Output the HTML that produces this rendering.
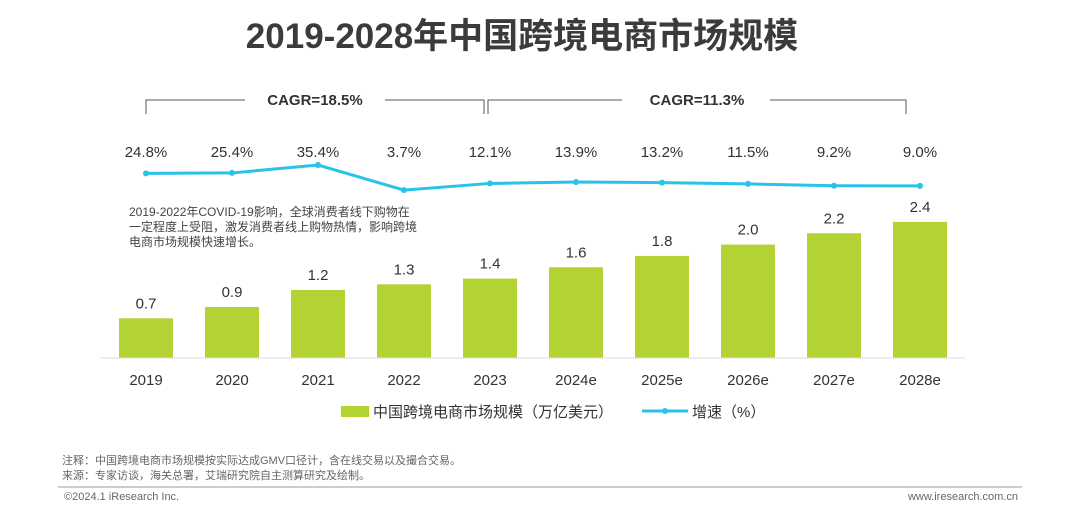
<!DOCTYPE html>
<html><head><meta charset="utf-8">
<style>
body{margin:0;background:#fff;width:1080px;height:516px;overflow:hidden;font-family:"Liberation Sans","Noto Sans CJK SC",sans-serif}
svg text{font-family:"Liberation Sans","Noto Sans CJK SC",sans-serif}
</style></head><body>
<svg width="1080" height="516">
<text x="522" y="48" text-anchor="middle" font-size="35" font-weight="bold" fill="#3b3b3b">2019-2028年中国跨境电商市场规模</text>
<g fill="none" stroke="#555" stroke-width="1">
<path d="M146,114 V100 H245 M385,100 H484 V114"/>
<path d="M488,114 V100 H622 M770,100 H906 V114"/>
</g>
<text x="315" y="105" text-anchor="middle" font-size="15" font-weight="bold" fill="#333">CAGR=18.5%</text>
<text x="697" y="105" text-anchor="middle" font-size="15" font-weight="bold" fill="#333">CAGR=11.3%</text>
<g id="bars"></g><g id="line"></g><g id="labels"></g>
<g font-size="12" fill="#444">
<text x="129" y="216">2019-2022年COVID-19影响，全球消费者线下购物在</text>
<text x="129" y="231">一定程度上受阻，激发消费者线上购物热情，影响跨境</text>
<text x="129" y="246">电商市场规模快速增长。</text>
</g>
<line x1="100" y1="358" x2="965" y2="358" stroke="#ddd"/>
<rect x="341" y="406" width="28" height="11" fill="#b3d234"/>
<text x="373" y="417" font-size="15" fill="#333">中国跨境电商市场规模（万亿美元）</text>
<line x1="642" y1="411" x2="688" y2="411" stroke="#29c2ea" stroke-width="3"/>
<circle cx="665" cy="411" r="3" fill="#29c2ea"/>
<text x="692" y="417" font-size="15" fill="#333">增速（%）</text>
<text x="62" y="464" font-size="11" fill="#666">注释：中国跨境电商市场规模按实际达成GMV口径计，含在线交易以及撮合交易。</text>
<text x="62" y="479" font-size="11" fill="#666">来源：专家访谈，海关总署，艾瑞研究院自主测算研究及绘制。</text>
<line x1="58" y1="487" x2="1022" y2="487" stroke="#999"/>
<text x="64" y="500" font-size="11" fill="#666">©2024.1 iResearch Inc.</text>
<text x="1018" y="500" text-anchor="end" font-size="11" fill="#666">www.iresearch.com.cn</text>
</svg>
<script>
const categories=["2019","2020","2021","2022","2023","2024e","2025e","2026e","2027e","2028e"];
const sizeValues=[0.7,0.9,1.2,1.3,1.4,1.6,1.8,2.0,2.2,2.4];
const sizeLabels=["0.7","0.9","1.2","1.3","1.4","1.6","1.8","2.0","2.2","2.4"];
const growthValues=[24.8,25.4,35.4,3.7,12.1,13.9,13.2,11.5,9.2,9.0];
const growthLabels=["24.8%","25.4%","35.4%","3.7%","12.1%","13.9%","13.2%","11.5%","9.2%","9.0%"];
const NS="http://www.w3.org/2000/svg";
const xc=i=>146+i*86;
const yb=v=>358-v*56.7;
const yl=v=>193-v*0.79;
function mk(t,a,p){const e=document.createElementNS(NS,t);for(const k in a)e.setAttribute(k,a[k]);p.appendChild(e);return e;}
const bars=document.getElementById('bars'),line=document.getElementById('line'),lab=document.getElementById('labels');
categories.forEach((c,i)=>{
 const r=mk('rect',{x:xc(i)-27,y:yb(sizeValues[i]),width:54,height:358-yb(sizeValues[i]),fill:'#b3d234'},bars);
 
 
 const t=mk('text',{x:xc(i),y:yb(sizeValues[i])-10,'text-anchor':'middle','font-size':15,fill:'#333'},lab);t.textContent=sizeLabels[i];
 
 
 const x=mk('text',{x:xc(i),y:385,'text-anchor':'middle','font-size':15,fill:'#333'},lab);x.textContent=c;
 
 
 const g=mk('text',{x:xc(i),y:157,'text-anchor':'middle','font-size':15,fill:'#333'},lab);g.textContent=growthLabels[i];
 
 
});
const pl=mk('polyline',{points:growthValues.map((v,i)=>xc(i)+','+yl(v)).join(' '),fill:'none',stroke:'#29c2ea','stroke-width':3},line);


growthValues.forEach((v,i)=>{const c=mk('circle',{cx:xc(i),cy:yl(v),r:3,fill:'#29c2ea'},line);
 
 });
</script>
</body></html>
